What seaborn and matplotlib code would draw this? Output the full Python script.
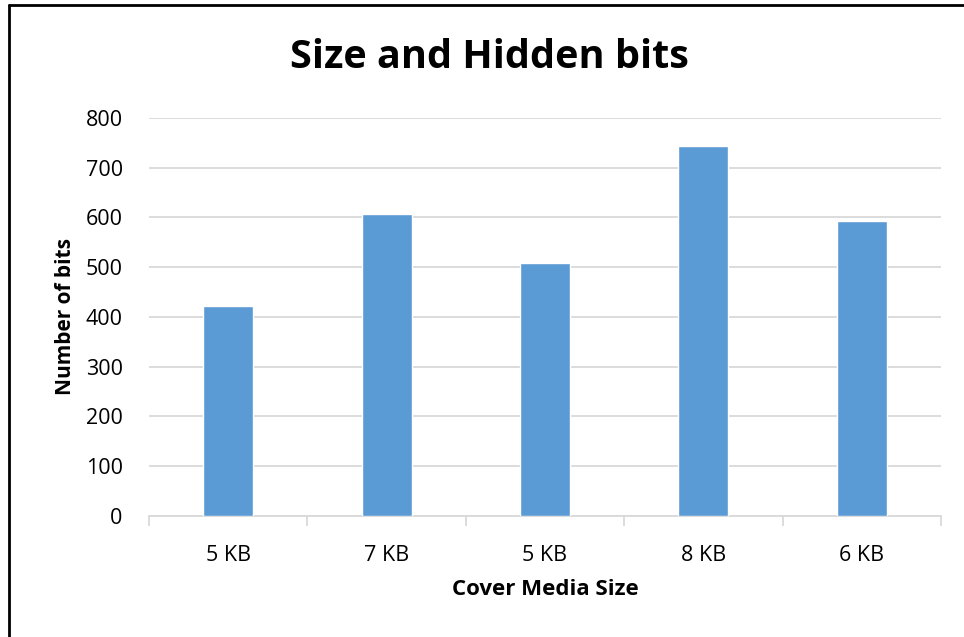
import matplotlib
matplotlib.use("Agg")
import matplotlib.pyplot as plt
from matplotlib.lines import Line2D
import seaborn as sns
import pandas as pd
import numpy as np

# chart data
sizes = ['5 KB', '7 KB', '5 KB', '8 KB', '6 KB']
hidden_bits = [423, 606, 509, 743, 593]

sns.set_theme(style="white")
plt.rcParams['font.family'] = ['Open Sans', 'DejaVu Sans']
plt.rcParams['text.color'] = 'black'
plt.rcParams['axes.labelcolor'] = 'black'

df = pd.DataFrame({'pos': range(len(sizes)), 'bits': hidden_bits})

fig = plt.figure(figsize=(9.64, 6.37), dpi=100)
ax = fig.add_axes([0.1546, 0.19, 0.8215, 0.6248])

sns.barplot(data=df, x='pos', y='bits', color='#5b9bd5', saturation=1,
            width=0.317, ax=ax, zorder=3)

ax.set_ylim(0, 800)
ax.set_yticks(np.arange(0, 801, 100))
ax.set_xlim(-0.5, len(sizes) - 0.5)
ax.set_xticks(range(len(sizes)))
ax.set_xticklabels(sizes)
ax.set_xticks(np.arange(-0.5, len(sizes), 1), minor=True)
ax.yaxis.grid(True, color='#d9d9d9', linewidth=1.3, zorder=0)
ax.set_axisbelow(True)

for s in ['top', 'right', 'left']:
    ax.spines[s].set_visible(False)
ax.spines['bottom'].set_color('#d9d9d9')
ax.spines['bottom'].set_linewidth(1.3)

ax.tick_params(axis='x', which='major', length=0, pad=21, labelsize=15.5, colors='black')
ax.tick_params(axis='x', which='minor', length=7, width=1.3, color='#d9d9d9', bottom=True)
ax.tick_params(axis='y', length=0, pad=19, labelsize=15.5, colors='black')

ax.set_xlabel('Cover Media Size', fontsize=16, fontweight='bold', labelpad=9)
ax.set_ylabel('Number of bits', fontsize=15, fontweight='bold', labelpad=7)

fig.text(0.508, 0.91, 'Size and Hidden bits', ha='center', va='center',
         fontsize=28.5, fontweight='bold')

# outer frame (left and top edges visible)
fig.add_artist(Line2D([0.0098, 0.0098], [0, 0.992], transform=fig.transFigure, color='black', linewidth=2))
fig.add_artist(Line2D([0.0098, 1.0], [0.992, 0.992], transform=fig.transFigure, color='black', linewidth=2))

fig.savefig('out.png', dpi=100)
